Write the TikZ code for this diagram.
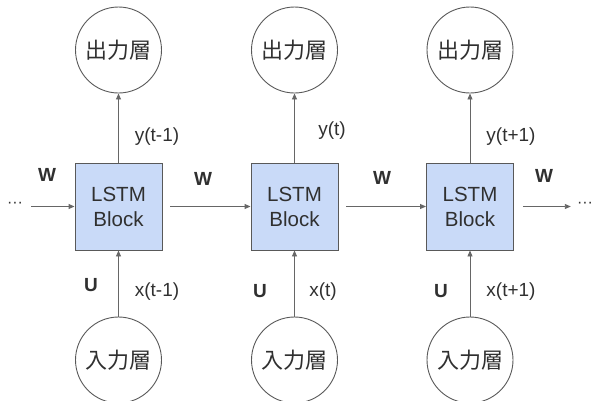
\documentclass[tikz,border=0pt]{standalone}
\usepackage{fontspec}
\setmainfont{Liberation Sans}
\newfontfamily\jpfont{Noto Sans CJK JP}
\usetikzlibrary{arrows.meta}
\definecolor{blockfill}{HTML}{C9DAF8}
\definecolor{edgegray}{HTML}{595959}
\definecolor{linegray}{HTML}{666666}
\definecolor{txt}{HTML}{303030}
\tikzset{
  layer/.style={circle, draw=edgegray, line width=0.9pt, minimum size=86pt, inner sep=0pt, font=\jpfont\fontsize{22}{24}\selectfont, text=txt},
  lstm/.style={rectangle, draw=edgegray, line width=0.9pt, fill=blockfill, minimum width=87pt, minimum height=87pt, inner sep=0pt, align=center, font=\fontsize{20.5}{25}\selectfont, text=txt},
  conn/.style={draw=linegray, line width=0.9pt, -{Triangle[length=6pt,width=5pt]}},
  lbl/.style={inner sep=0pt, font=\fontsize{19}{22}\selectfont, text=txt},
  wlbl/.style={inner sep=0pt, font=\bfseries\fontsize{19}{22}\selectfont, text=txt},
  dots/.style={inner sep=0pt, font=\fontsize{16}{18}\selectfont, text=txt}
}
\begin{document}
\begin{tikzpicture}[x=1pt,y=-1pt]
\useasboundingbox (0,0) rectangle (595,400);
% blocks
\node[lstm] (b1) at (118.5,206.5) {LSTM\\Block};
\node[lstm] (b2) at (294.5,206.5) {LSTM\\Block};
\node[lstm] (b3) at (470,206.5) {LSTM\\Block};
% output layers
\node[layer] (o1) at (118.5,50) {出力層};
\node[layer] (o2) at (294.5,50) {出力層};
\node[layer] (o3) at (470,50) {出力層};
% input layers
\node[layer] (i1) at (118.5,360) {入力層};
\node[layer] (i2) at (294.5,360) {入力層};
\node[layer] (i3) at (470,360) {入力層};
% dots
\node[dots] (dl) at (15,205) {···};
\node[dots] (dr) at (585,205) {···};
% connectors
\draw[conn] (b1) -- (o1);
\draw[conn] (b2) -- (o2);
\draw[conn] (b3) -- (o3);
\draw[conn] (i1) -- (b1);
\draw[conn] (i2) -- (b2);
\draw[conn] (i3) -- (b3);
\draw[conn, shorten <=8pt] (dl.east |- b1.west) -- (b1.west);
\draw[conn, shorten <=8pt] (b1.east) -- (b2.west);
\draw[conn, shorten <=8pt] (b2.east) -- (b3.west);
\draw[conn, shorten <=9pt, shorten >=6pt] (b3.east) -- (dr.west |- b3.east);
% labels
\node[lbl] (ly1) at (157,137) {y(t-1)};
\node[lbl] (ly2) at (332,131) {y(t)};
\node[lbl] (ly3) at (511,137) {y(t+1)};
\node[lbl] (lx1) at (157,292) {x(t-1)};
\node[lbl] (lx2) at (323,292) {x(t)};
\node[lbl] (lx3) at (511,292) {x(t+1)};
\node[wlbl] (w1) at (47,175) {W};
\node[wlbl] (w2) at (203,179) {W};
\node[wlbl] (w3) at (382,178) {W};
\node[wlbl] (w4) at (544,176) {W};
\node[wlbl] (u1) at (91,285) {U};
\node[wlbl] (u2) at (260,291) {U};
\node[wlbl] (u3) at (441,291) {U};
\end{tikzpicture}
\end{document}
